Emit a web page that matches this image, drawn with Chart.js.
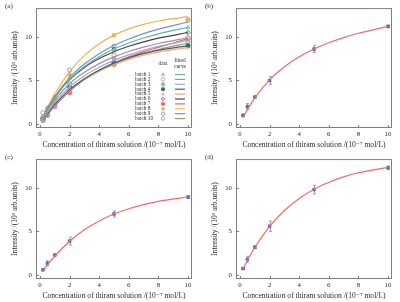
<!DOCTYPE html>
<html>
<head>
<meta charset="utf-8">
<script src="https://cdn.jsdelivr.net/npm/chart.js@4.4.0/dist/chart.umd.min.js"></script>
<style>
  html, body { margin: 0; padding: 0; background: #fff; }
  #wrap { position: relative; width: 400px; height: 302px; }
  .panel { position: absolute; width: 200px; height: 151px; }
</style>
</head>
<body>
<div id="wrap">
  <div class="panel" style="left:0;top:0"><canvas id="ca" width="200" height="151"></canvas></div>
  <div class="panel" style="left:200px;top:0"><canvas id="cb" width="200" height="151"></canvas></div>
  <div class="panel" style="left:0;top:151px"><canvas id="cc" width="200" height="151"></canvas></div>
  <div class="panel" style="left:200px;top:151px"><canvas id="cd" width="200" height="151"></canvas></div>
</div>
<script>
// concentrations (10^-7 mol/L)
const xData = [0.2, 0.5, 1, 2, 5, 10];
const xFit = [0.2, 0.5, 1, 2, 3, 4, 5, 6, 7, 8, 10];
const xTicks = [0, 2, 4, 6, 8, 10];
const yTicks = [0, 5, 10];

// panel (a): ten batches, measured and fitted
const batchNames = ['batch 1', 'batch 2', 'batch 3', 'batch 4', 'batch 5', 'batch 6', 'batch 7', 'batch 8', 'batch 9', 'batch 10'];
const batchData = [
  [0.6, 1.9, 3.0, 5.3, 8.5, 11.1],
  [1.3, 1.4, 2.6, 4.6, 7.9, 9.9],
  [0.5, 1.2, 2.0, 4.0, 7.5, 9.7],
  [0.6, 1.3, 2.4, 4.2, 7.0, 9.0],
  [0.7, 1.3, 2.3, 3.8, 6.8, 8.8],
  [0.6, 1.5, 2.6, 4.3, 8.6, 10.5],
  [0.5, 1.0, 2.0, 3.6, 7.1, 9.8],
  [0.7, 1.8, 3.2, 5.7, 10.2, 12.0],
  [0.8, 1.5, 2.8, 6.2, 8.9, 11.9],
  [0.4, 1.2, 2.2, 3.9, 6.8, 9.4],
];
const batchFit = [
  [0.73, 1.70, 3.07, 5.13, 6.61, 7.73, 8.60, 9.30, 9.87, 10.35, 11.10],
  [0.66, 1.54, 2.77, 4.62, 5.94, 6.93, 7.70, 8.32, 8.82, 9.24, 9.90],
  [0.58, 1.37, 2.50, 4.25, 5.53, 6.52, 7.30, 7.94, 8.46, 8.90, 9.60],
  [0.50, 1.20, 2.25, 3.95, 5.20, 6.20, 7.00, 7.60, 8.10, 8.45, 9.00],
  [0.50, 1.20, 2.20, 3.90, 5.10, 6.05, 6.80, 7.40, 7.90, 8.25, 8.80],
  [0.75, 1.74, 3.10, 5.09, 6.49, 7.51, 8.30, 8.92, 9.43, 9.85, 10.50],
  [0.45, 1.10, 2.10, 3.80, 5.10, 6.15, 7.00, 7.70, 8.30, 8.80, 9.80],
  [0.79, 1.87, 3.48, 6.02, 7.87, 9.22, 10.20, 10.92, 11.44, 11.82, 12.31],
  [0.75, 1.75, 3.16, 5.32, 6.88, 8.07, 9.00, 9.75, 10.37, 10.88, 11.70],
  [0.45, 1.10, 2.10, 3.80, 5.10, 6.10, 6.90, 7.55, 8.10, 8.55, 9.30],
];
const batchColors = ['#5dbb98', '#a0919c', '#aaa2d8', '#2f6b6b', '#f3a57e', '#5b3b3b', '#f0626c', '#f6b04e', '#6b94d8', '#a69462'];
const batchStyles = ['triangle', 'circle', 'circle', 'circle', 'star', 'rectRot', 'circle', 'rect', 'circle', 'circle'];
const batchFilled = [false, false, true, true, false, false, true, true, false, false];

// panels (b)-(d): mean with error, and fit
const bMean = [1.0, 2.0, 3.1, 5.0, 8.6, 11.2];
const bErr = [0.15, 0.35, 0.12, 0.45, 0.4, 0.15];
const bFit = [0.71, 1.66, 3.01, 5.07, 6.57, 7.71, 8.60, 9.32, 9.92, 10.41, 11.20];
const cMean = [0.6, 1.35, 2.3, 3.9, 7.0, 8.95];
const cErr = [0.1, 0.3, 0.1, 0.45, 0.35, 0.15];
const cFit = [0.48, 1.16, 2.19, 3.88, 5.19, 6.21, 7.00, 7.61, 8.08, 8.45, 8.95];
const dMean = [0.75, 1.8, 3.2, 5.6, 9.8, 12.3];
const dErr = [0.1, 0.35, 0.15, 0.6, 0.5, 0.2];
const dFit = [0.70, 1.69, 3.16, 5.57, 7.40, 8.79, 9.85, 10.65, 11.26, 11.73, 12.35];

const SERIF = '"Liberation Serif", "DejaVu Serif", serif';
const TXT = '#2a2a2a';
const pts = (xs, ys) => xs.map((x, i) => ({ x, y: ys[i] }));

// frame, inward ticks and the panel letter
const framePlugin = {
  id: 'frame',
  afterDatasetsDraw(chart, args, opts) {
    const { ctx, chartArea: a, scales } = chart;
    ctx.save();
    ctx.strokeStyle = '#7f7f7f';
    ctx.lineWidth = 1;
    ctx.strokeRect(a.left + 0.5, a.top + 0.5, a.right - a.left - 1, a.bottom - a.top - 1);
    ctx.beginPath();
    xTicks.forEach(v => {
      const px = Math.round(scales.x.getPixelForValue(v)) + 0.5;
      ctx.moveTo(px, a.bottom); ctx.lineTo(px, a.bottom - 3);
    });
    yTicks.forEach(v => {
      const py = Math.round(scales.y.getPixelForValue(v)) + 0.5;
      ctx.moveTo(a.left, py); ctx.lineTo(a.left + 3, py);
    });
    ctx.stroke();
    ctx.fillStyle = TXT;
    ctx.font = `7px ${SERIF}`;
    ctx.textBaseline = 'middle';
    ctx.fillText(opts.label, 5, 6);
    ctx.restore();
  }
};

// vertical error bars for datasets carrying an errors array
const errorBars = {
  id: 'errorBars',
  beforeDatasetsDraw(chart) {
    const { ctx, scales } = chart;
    ctx.save();
    ctx.strokeStyle = '#8ea6de';
    ctx.lineWidth = 1;
    chart.data.datasets.forEach(ds => {
      if (!ds.errors) return;
      ds.data.forEach((p, i) => {
        const x = Math.round(scales.x.getPixelForValue(p.x)) + 0.5;
        const y0 = scales.y.getPixelForValue(p.y - ds.errors[i]);
        const y1 = scales.y.getPixelForValue(p.y + ds.errors[i]);
        ctx.beginPath();
        ctx.moveTo(x, y0); ctx.lineTo(x, y1);
        ctx.moveTo(x - 1.5, y0); ctx.lineTo(x + 1.5, y0);
        ctx.moveTo(x - 1.5, y1); ctx.lineTo(x + 1.5, y1);
        ctx.stroke();
      });
    });
    ctx.restore();
  }
};

// two-column key of panel (a)
const batchKey = {
  id: 'batchKey',
  afterDraw(chart) {
    const { ctx, chartArea: a } = chart;
    const colData = a.right - 29, colLine = a.right - 17;
    ctx.save();
    ctx.font = `5.3px ${SERIF}`;
    ctx.fillStyle = TXT;
    ctx.textBaseline = 'middle';
    ctx.textAlign = 'center';
    ctx.fillText('data', colData, 64);
    ctx.fillText('fitted', colLine + 5, 61);
    ctx.fillText('curve', colLine + 5, 66.5);
    batchNames.forEach((name, i) => {
      const y = 74.5 + i * 4.9;
      ctx.textAlign = 'left';
      ctx.fillStyle = TXT;
      ctx.fillText(name, a.left + 99, y);
      ctx.strokeStyle = batchColors[i];
      ctx.fillStyle = batchFilled[i] ? batchColors[i] : '#fff';
      ctx.lineWidth = 0.8;
      Chart.helpers.drawPoint(ctx, { pointStyle: batchStyles[i], radius: 1.7, borderWidth: 0.8, rotation: 0 }, colData, y);
      ctx.lineWidth = 1.2;
      ctx.beginPath();
      ctx.moveTo(colLine, y); ctx.lineTo(colLine + 10, y);
      ctx.stroke();
    });
    ctx.restore();
  }
};

const axes = () => ({
  x: {
    type: 'linear', min: -0.27, max: 10.27,
    afterBuildTicks: s => { s.ticks = xTicks.map(v => ({ value: v })); },
    afterFit: s => { s.height = 23; },
    grid: { display: false, drawTicks: false },
    border: { display: false },
    ticks: { font: { family: SERIF, size: 6.8 }, color: TXT, padding: 2, maxRotation: 0, autoSkip: false },
    title: { display: true, text: 'Concentration of thiram solution /(10⁻⁷ mol/L)', font: { family: SERIF, size: 7.6 }, color: TXT, padding: { top: 0, bottom: 1.5 } },
  },
  y: {
    type: 'linear', min: -0.45, max: 13.3,
    afterBuildTicks: s => { s.ticks = yTicks.map(v => ({ value: v })); },
    afterFit: s => { s.width = 36; },
    grid: { display: false, drawTicks: false },
    border: { display: false },
    ticks: { font: { family: SERIF, size: 6.8 }, color: TXT, padding: 4 },
    title: { display: true, text: 'Intensity /(10³ arb.units)', font: { family: SERIF, size: 7.6 }, color: TXT, padding: { top: 10, bottom: 0 } },
  },
});

function makePanel(id, label, datasets, extra = []) {
  return new Chart(document.getElementById(id), {
    type: 'scatter',
    data: { datasets },
    options: {
      responsive: false,
      animation: false,
      devicePixelRatio: 1,
      events: [],
      layout: { padding: { top: 3, right: 8, left: 0, bottom: 0 } },
      scales: axes(),
      plugins: { legend: { display: false }, tooltip: { enabled: false }, frame: { label } },
    },
    plugins: [framePlugin, errorBars, ...extra],
  });
}

const fitLine = (ys, color) => ({
  type: 'line', data: pts(xFit, ys), borderColor: color, borderWidth: 1.2,
  pointRadius: 0, cubicInterpolationMode: 'monotone', fill: false,
});

const meanPoints = (ys, errs) => ({
  data: pts(xData, ys), errors: errs, pointStyle: 'rect', pointRadius: 1.9,
  backgroundColor: '#6a6ab4', borderColor: '#4b4b9c', borderWidth: 0.6,
});

const aSets = [];
batchFit.forEach((ys, i) => aSets.push(fitLine(ys, batchColors[i])));
batchData.forEach((ys, i) => aSets.push({
  data: pts(xData, ys), pointStyle: batchStyles[i], pointRadius: 2.1, borderWidth: 0.9,
  borderColor: batchColors[i], backgroundColor: batchFilled[i] ? batchColors[i] : 'rgba(255,255,255,0.6)',
}));

makePanel('ca', '(a)', aSets, [batchKey]);
makePanel('cb', '(b)', [fitLine(bFit, '#f06b6b'), meanPoints(bMean, bErr)]);
makePanel('cc', '(c)', [fitLine(cFit, '#f06b6b'), meanPoints(cMean, cErr)]);
makePanel('cd', '(d)', [fitLine(dFit, '#f06b6b'), meanPoints(dMean, dErr)]);
</script>
</body>
</html>
